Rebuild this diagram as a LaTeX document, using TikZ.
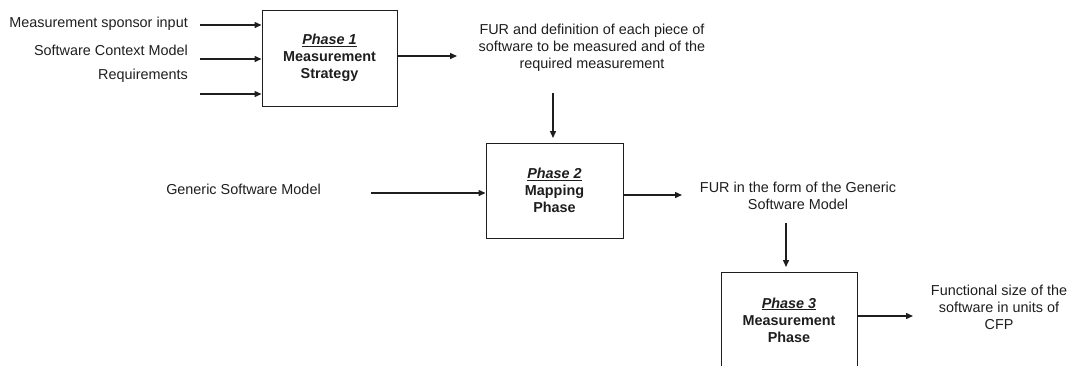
\documentclass[tikz,border=0pt]{standalone}
\usepackage{fontspec}
\setmainfont{Liberation Sans}
\usetikzlibrary{arrows.meta}
\definecolor{ink}{HTML}{1E1E1E}
\tikzset{
  phasebox/.style={draw=ink, line width=1pt, minimum width=135pt, minimum height=96pt, inner sep=0pt, align=center, font=\fontsize{14.4}{17}\selectfont\bfseries, text=ink},
  lbl/.style={inner sep=0pt, align=center, font=\fontsize{14.4}{17}\selectfont, text=ink},
  arr/.style={draw=ink, line width=1.4pt, -{Triangle[length=7pt,width=6pt]}}
}
\begin{document}
\begin{tikzpicture}[x=1pt,y=-1pt]
\useasboundingbox (0,0) rectangle (1070,365);
% boxes
\node[phasebox] (b1) at (329.5,58) {\underline{\textit{Phase 1}}\\Measurement\\Strategy};
\node[phasebox, minimum width=137pt, minimum height=95pt] (b2) at (554.5,190.5) {\underline{\textit{Phase 2}}\\Mapping\\Phase};
\node[phasebox, minimum width=136pt, minimum height=96pt] (b3) at (789,320) {\underline{\textit{Phase 3}}\\Measurement\\Phase};
% labels
\node[lbl, anchor=east] (l1) at (188,24) {Measurement sponsor input};
\node[lbl, anchor=east] (l2) at (188,50) {Software Context Model};
\node[lbl, anchor=east] (l3) at (188,76) {Requirements};
\node[lbl] (t1) at (592,48) {FUR and definition of each piece of\\software to be measured and of the\\required measurement};
\node[lbl] (g) at (243.5,189) {Generic Software Model};
\node[lbl] (t2) at (798,196) {FUR in the form of the Generic\\Software Model};
\node[lbl] (t3) at (999,307) {Functional size of the\\software in units of\\CFP};
% free ends
\coordinate (s1) at (200,25);
\coordinate (s2) at (200,59);
\coordinate (s3) at (200,94);
\coordinate (o1) at (457,56);
\coordinate (d1s) at (553,93);
\coordinate (d1e) at (553,138);
\coordinate (s4) at (371,193);
\coordinate (o2) at (682,195);
\coordinate (d2s) at (786,223);
\coordinate (d2e) at (786,267);
\coordinate (o3) at (913,316);
% connectors
\draw[arr] (s1) -- (s1 -| b1.west);
\draw[arr] (s2) -- (s2 -| b1.west);
\draw[arr] (s3) -- (s3 -| b1.west);
\draw[arr] (o1 -| b1.east) -- (o1);
\draw[arr] (d1s) -- (d1e);
\draw[arr] (s4) -- (s4 -| b2.west);
\draw[arr] (o2 -| b2.east) -- (o2);
\draw[arr] (d2s) -- (d2e);
\draw[arr] (o3 -| b3.east) -- (o3);
\end{tikzpicture}
\end{document}
